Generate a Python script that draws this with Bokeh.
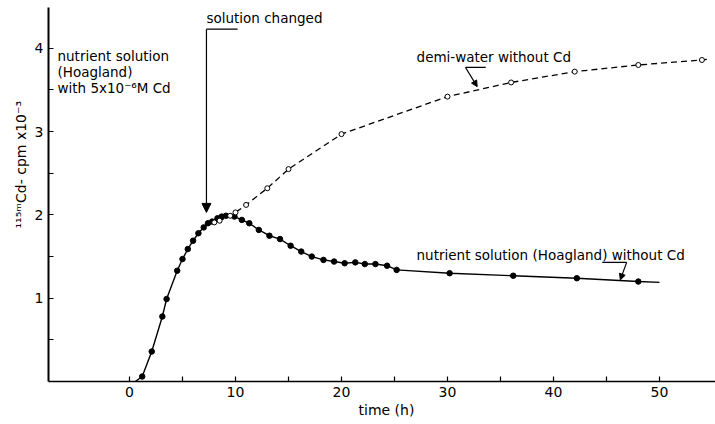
import numpy as np
from bokeh.plotting import figure
from bokeh.models import Range1d, Label, Arrow, NormalHead, FixedTicker, Title
from bokeh.embed import file_html
from bokeh.resources import INLINE

# ---- data ----
# filled dots: nutrient solution (Hoagland) with Cd, after 7.5 h without Cd
nut_t = [1.2, 2.1, 3.1, 3.5, 4.5, 5.0, 5.5, 6.0, 6.5, 7.0, 7.4, 7.8, 8.3, 8.7, 9.1,
         9.9, 10.6, 11.3, 12.2, 13.2, 14.2, 15.2, 16.2, 17.2, 18.3, 19.3, 20.3,
         21.3, 22.2, 23.2, 24.3, 25.2, 30.2, 36.2, 42.2, 48.0]
nut_v = [0.06, 0.36, 0.78, 0.99, 1.33, 1.47, 1.59, 1.69, 1.78, 1.85, 1.90, 1.92, 1.96, 1.98, 1.99,
         1.98, 1.94, 1.90, 1.82, 1.75, 1.71, 1.63, 1.56, 1.50, 1.46, 1.44, 1.42,
         1.43, 1.41, 1.41, 1.39, 1.34, 1.30, 1.27, 1.24, 1.20]
# curve ends (no markers)
nut_curve_start = (0.55, 0.0)
nut_curve_end = (50.0, 1.19)

# open circles: demi-water without Cd
demi_t = [8.0, 8.5, 9.5, 10.0, 11.0, 13.0, 15.0, 20.0, 30.0, 36.0, 42.0, 48.0, 54.0]
demi_v = [1.91, 1.93, 1.99, 2.03, 2.12, 2.32, 2.55, 2.97, 3.42, 3.59, 3.72, 3.80, 3.86]
demi_curve_start = (7.5, 1.89)
demi_curve_end = (54.6, 3.87)

x_ticks = [0, 5, 10, 15, 20, 25, 30, 35, 40, 45, 50]
x_tick_labels = ["0", "", "10", "", "20", "", "30", "", "40", "", "50"]
y_ticks = [0.5, 1.0, 1.5, 2.0, 2.5, 3.0, 3.5, 4.0]
y_tick_labels = ["", "1", "", "2", "", "3", "", "4"]

FONT = "DejaVu Sans"

p = figure(width=715, height=424,
           x_range=Range1d(-7.64, 55.28), y_range=Range1d(0, 4.49),
           output_backend="svg", toolbar_location=None,
           min_border_left=48, min_border_right=0, min_border_top=7, min_border_bottom=43)
p.outline_line_color = None
p.xgrid.visible = False
p.ygrid.visible = False
p.background_fill_color = "white"
p.border_fill_color = "white"

# axes
p.xaxis.ticker = FixedTicker(ticks=x_ticks)
p.xaxis.major_label_overrides = {t: s for t, s in zip(x_ticks, x_tick_labels)}
p.yaxis.ticker = FixedTicker(ticks=y_ticks)
p.yaxis.major_label_overrides = {t: s for t, s in zip(y_ticks, y_tick_labels)}
for ax, lw in ((p.xaxis, 1.5), (p.yaxis, 2)):
    ax.axis_line_color = "black"
    ax.axis_line_width = lw
    ax.major_tick_in = 5
    ax.major_tick_out = 0
    ax.major_tick_line_color = "black"
    ax.major_tick_line_width = 1.2
    ax.minor_tick_line_color = None
    ax.major_label_text_font = FONT
    ax.major_label_text_font_size = "14px"
    ax.major_label_text_color = "black"
    ax.major_label_standoff = 5

# axis titles as side-panel titles (so they can be offset like the reference)
p.add_layout(Title(text="time (h)", align="left", offset=310, standoff=0,
                   text_font=FONT, text_font_size="14px", text_font_style="normal",
                   text_color="black"), "below")
p.add_layout(Title(text="¹¹⁵ᵐCd- cpm x10⁻³", align="left", offset=153, standoff=6,
                   text_font=FONT, text_font_size="14px", text_font_style="normal",
                   text_color="black"), "left")

# curves
nut_line_t = [nut_curve_start[0]] + nut_t + [nut_curve_end[0]]
nut_line_v = [nut_curve_start[1]] + nut_v + [nut_curve_end[1]]
demi_line_t = [demi_curve_start[0]] + demi_t + [demi_curve_end[0]]
demi_line_v = [demi_curve_start[1]] + demi_v + [demi_curve_end[1]]

p.line(demi_line_t, demi_line_v, line_color="black", line_width=1.3, line_dash="6 4")
p.line(nut_line_t, nut_line_v, line_color="black", line_width=1.4)
p.scatter(nut_t, nut_v, size=5.5, color="black")
p.scatter(demi_t, demi_v, size=5, fill_color="white", line_color="black", line_width=1)

# annotation leaders
p.line([10.2, 7.26], [4.23, 4.23], line_color="black", line_width=1.2)
p.add_layout(Arrow(end=NormalHead(size=9, fill_color="black", line_color="black"),
                   x_start=7.26, y_start=4.23, x_end=7.26, y_end=2.03,
                   line_color="black", line_width=1.2))
p.line([33.6, 31.7], [3.77, 3.77], line_color="black", line_width=1.2)
p.add_layout(Arrow(end=NormalHead(size=6, fill_color="black", line_color="black"),
                   x_start=31.7, y_start=3.77, x_end=32.8, y_end=3.54,
                   line_color="black", line_width=1.2))
p.line([44.6, 46.9], [1.43, 1.43], line_color="black", line_width=1.2)
p.add_layout(Arrow(end=NormalHead(size=6, fill_color="black", line_color="black"),
                   x_start=46.9, y_start=1.43, x_end=46.3, y_end=1.22,
                   line_color="black", line_width=1.2))

def lab(x, y, text, size="13.5px", angle=0.0, align="left"):
    p.add_layout(Label(x=x, y=y, text=text, text_font=FONT, text_font_size=size,
                       text_color="black", text_align=align, text_baseline="middle",
                       angle=angle))

lab(7.26, 4.36, "solution changed")
lab(-6.79, 3.91, "nutrient solution")
lab(-6.79, 3.71, "(Hoagland)")
lab(-6.79, 3.52, "with 5x10⁻⁶M Cd")
lab(27.08, 3.89, "demi-water without Cd")
lab(27.08, 1.52, "nutrient solution (Hoagland) without Cd")

open("out.html", "w").write(file_html(p, INLINE))
